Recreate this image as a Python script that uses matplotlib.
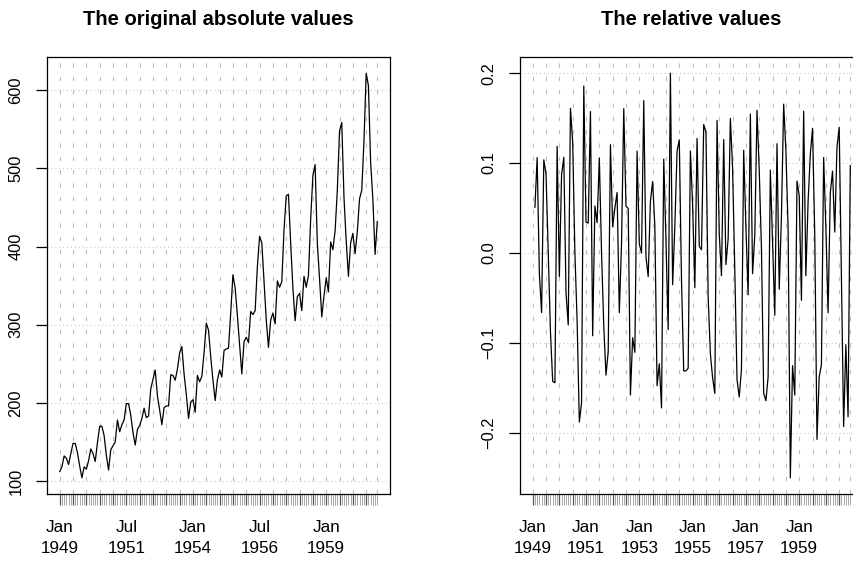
import numpy as np
import matplotlib
matplotlib.use('Agg')
import matplotlib.pyplot as plt
from matplotlib.ticker import FixedLocator, FuncFormatter

plt.rcParams['font.family'] = ['Liberation Sans', 'DejaVu Sans']

# monthly air passengers, Jan 1949 .. Dec 1960
passengers = [
    112, 118, 132, 129, 121, 135, 148, 148, 136, 119, 104, 118,
    115, 126, 141, 135, 125, 149, 170, 170, 158, 133, 114, 140,
    145, 150, 178, 163, 172, 178, 199, 199, 184, 162, 146, 166,
    171, 180, 193, 181, 183, 218, 230, 242, 209, 191, 172, 194,
    196, 196, 236, 235, 229, 243, 264, 272, 237, 211, 180, 201,
    204, 188, 235, 227, 234, 264, 302, 293, 259, 229, 203, 229,
    242, 233, 267, 269, 270, 315, 364, 347, 312, 274, 237, 278,
    284, 277, 317, 313, 318, 374, 413, 405, 355, 306, 271, 306,
    315, 301, 356, 348, 355, 422, 465, 467, 404, 347, 305, 336,
    340, 318, 362, 348, 363, 435, 491, 505, 404, 359, 310, 337,
    360, 342, 406, 396, 420, 472, 548, 559, 463, 407, 362, 405,
    417, 391, 419, 461, 472, 535, 622, 606, 508, 461, 390, 432,
]
start_year = 1949
month_names = ['Jan', 'Feb', 'Mar', 'Apr', 'May', 'Jun',
               'Jul', 'Aug', 'Sep', 'Oct', 'Nov', 'Dec']

x = np.array(passengers, dtype=float)
t = start_year + np.arange(len(x)) / 12.0
# relative change: (x_t - x_{t-1}) / x_t
rel = np.diff(x) / x[1:]
t_rel = t[1:]

left_yticks = [100, 200, 300, 400, 500, 600]
right_yticks = [-0.2, -0.1, 0.0, 0.1, 0.2]

W, H = 854, 561
fig = plt.figure(figsize=(W / 100, H / 100), dpi=100)

def px_axes(x0, y0, w, h):
    return fig.add_axes([x0 / W, 1 - (y0 + h) / H, w / W, h / H])

ax1 = px_axes(47, 57, 343, 437)
ax2 = px_axes(520, 57, 343, 437)

span = t[-1] - t[0]
xlim = (t[0] - 0.04 * span, t[-1] + 0.04 * span)

def style(ax, tdata, ydata, yticks, label_every, title):
    ax.plot(tdata, ydata, color='black', lw=0.9)
    lo, hi = min(ydata), max(ydata)
    pad = 0.04 * (hi - lo)
    ax.set_ylim(lo - pad, hi + pad)
    ax.set_xlim(*xlim)

    half_years = t[::6]
    grid_x = list(half_years) + [t[-1]]
    for gx in grid_x:
        ax.axvline(gx, color='#bdbdbd', lw=0.8, ls=(0, (4, 8)), zorder=0)
    for gy in yticks:
        ax.axhline(gy, color='#c8c8c8', lw=0.8, ls=(0, (1, 2.5)), zorder=0)

    ax.xaxis.set_major_locator(FixedLocator(half_years))
    ax.xaxis.set_minor_locator(FixedLocator(t))

    def fmt(val, pos):
        i = int(round((val - start_year) * 12))
        if i % label_every != 0:
            return ''
        return '%s\n%d' % (month_names[i % 12], start_year + i // 12)
    ax.xaxis.set_major_formatter(FuncFormatter(fmt))
    ax.tick_params(axis='x', which='major', length=8, width=0.9, color='#555555',
                   pad=11, labelsize=12.3)
    ax.tick_params(axis='x', which='minor', length=8, width=0.6, color='#999999')
    for lab in ax.get_xticklabels():
        lab.set_linespacing(1.45)

    ax.set_yticks(yticks)
    ax.tick_params(axis='y', length=8, width=0.9, pad=9, labelsize=11.8,
                   labelrotation=90)
    for lab in ax.get_yticklabels():
        lab.set_va('center')

    for sp in ax.spines.values():
        sp.set_linewidth(0.9)
    ax.set_title(title, fontsize=14.5, fontweight='bold', pad=23)

style(ax1, t, x, left_yticks, 30, 'The original absolute values')
style(ax2, t_rel, rel, right_yticks, 24, 'The relative values')

fig.savefig('out.png', dpi=100)
